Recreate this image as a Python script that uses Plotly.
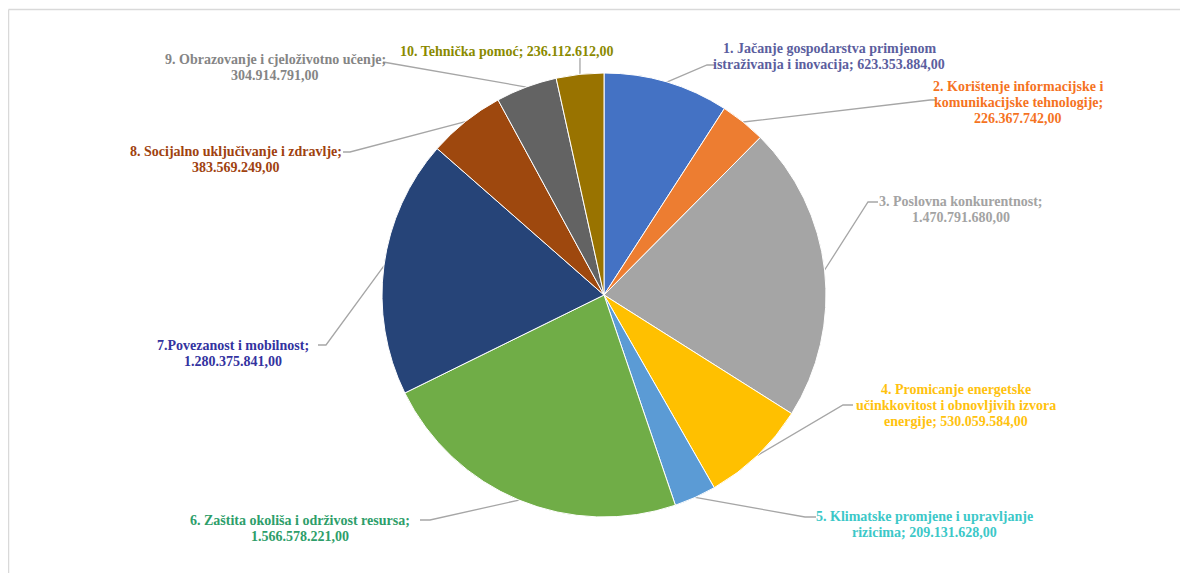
import math
import plotly.graph_objects as go

W, H = 1188, 573
OFF = 8  # page body margin: shift so the reference pixel positions line up

categories = [
    "1. Jačanje gospodarstva primjenom istraživanja i inovacija",
    "2. Korištenje informacijske i komunikacijske tehnologije",
    "3. Poslovna konkurentnost",
    "4. Promicanje energetske učinkkovitost i obnovljivih izvora energije",
    "5. Klimatske promjene i upravljanje rizicima",
    "6. Zaštita okoliša i održivost resursa",
    "7.Povezanost i mobilnost",
    "8. Socijalno uključivanje i zdravlje",
    "9. Obrazovanje i cjeloživotno učenje",
    "10. Tehnička pomoć",
]
values = [623353884.00, 226367742.00, 1470791680.00, 530059584.00, 209131628.00,
          1566578221.00, 1280375841.00, 383569249.00, 304914791.00, 236112612.00]
value_labels = ["623.353.884,00", "226.367.742,00", "1.470.791.680,00", "530.059.584,00",
                "209.131.628,00", "1.566.578.221,00", "1.280.375.841,00", "383.569.249,00",
                "304.914.791,00", "236.112.612,00"]

slice_colors = ["#4472C4", "#ED7D31", "#A5A5A5", "#FFC000", "#5B9BD5",
                "#70AD47", "#264478", "#9E480E", "#636363", "#997300"]
label_colors = ["#5B5E9E", "#F5731F", "#A3A3A3", "#FFC20E", "#3CC8C8",
                "#2E9E6A", "#3333A0", "#A0420F", "#858585", "#8A8A00"]

# label line breaks as in the reference
label_lines = [
    ["1. Jačanje gospodarstva primjenom", "istraživanja i inovacija; " + value_labels[0]],
    ["2. Korištenje informacijske i", "komunikacijske tehnologije;", value_labels[1]],
    ["3. Poslovna konkurentnost;", value_labels[2]],
    ["4. Promicanje energetske", "učinkkovitost i obnovljivih izvora", "energije; " + value_labels[3]],
    ["5. Klimatske promjene i upravljanje", "rizicima; " + value_labels[4]],
    ["6. Zaštita okoliša i održivost resursa;", value_labels[5]],
    ["7.Povezanost i mobilnost;", value_labels[6]],
    ["8. Socijalno uključivanje i zdravlje;", value_labels[7]],
    ["9. Obrazovanje i cjeloživotno učenje;", value_labels[8]],
    ["10. Tehnička pomoć; " + value_labels[9]],
]

# layout (reference pixels): pie centre/radius, label centres, leader-line elbows
cx, cy, R = 604, 295, 222
LINE_H = 16
label_pos = [(829, 56), (1018, 102), (961, 209), (956, 405), (924, 524),
             (300, 528), (233, 353), (236, 159), (275, 67), (507, 51)]
elbows = [[(707, 65), (715, 65)], [(930, 100), (937, 100)], [(868, 202), (878, 202)],
          [(843, 405), (853, 405)], [(805, 517), (816, 517)], [(430, 520), (420, 520)],
          [(326, 345), (318, 345)], [(350, 152), (343, 152)], [(387, 62), (383, 62)],
          [(580, 58)]]

fig = go.Figure()
fig.add_trace(go.Pie(
    labels=categories, values=values, sort=False, direction="clockwise", rotation=0,
    marker=dict(colors=slice_colors, line=dict(color="white", width=1)),
    textinfo="none", hoverinfo="label+value+percent", showlegend=False,
    domain=dict(x=[(cx - OFF - R) / W, (cx - OFF + R) / W],
                y=[1 - (cy - OFF + R) / H, 1 - (cy - OFF - R) / H]),
))

total = sum(values)
cum = 0.0
for i, v in enumerate(values):
    mid = (cum + v / 2) / total * 2 * math.pi
    cum += v
    ex, ey = cx + R * math.sin(mid), cy - R * math.cos(mid)
    xs = [ex] + [p[0] for p in elbows[i]]
    ys = [ey] + [p[1] for p in elbows[i]]
    fig.add_trace(go.Scatter(x=xs, y=ys, mode="lines", line=dict(color="#A6A6A6", width=1.3),
                             hoverinfo="skip", showlegend=False))
    n = len(label_lines[i])
    for j, line in enumerate(label_lines[i]):
        fig.add_annotation(x=label_pos[i][0], y=label_pos[i][1] + (j - (n - 1) / 2) * LINE_H,
                           xref="x", yref="y", text="<b>" + line + "</b>", showarrow=False,
                           xanchor="center", yanchor="middle", align="center",
                           font=dict(family="Liberation Serif", size=14, color=label_colors[i]))

fig.update_layout(
    width=W, height=H, margin=dict(l=0, r=0, t=0, b=0),
    paper_bgcolor="white", plot_bgcolor="rgba(0,0,0,0)",
    xaxis=dict(range=[OFF, W + OFF], visible=False, fixedrange=True),
    yaxis=dict(range=[H + OFF, OFF], visible=False, fixedrange=True),
    shapes=[
        dict(type="line", xref="paper", yref="paper", x0=0.5 / W, x1=1, y0=1 - 1.5 / H, y1=1 - 1.5 / H,
             line=dict(color="#D9D9D9", width=1.5)),
        dict(type="line", xref="paper", yref="paper", x0=0.5 / W, x1=0.5 / W, y0=0, y1=1 - 1.5 / H,
             line=dict(color="#D9D9D9", width=1.5)),
    ],
)

fig.write_html("out.html")
